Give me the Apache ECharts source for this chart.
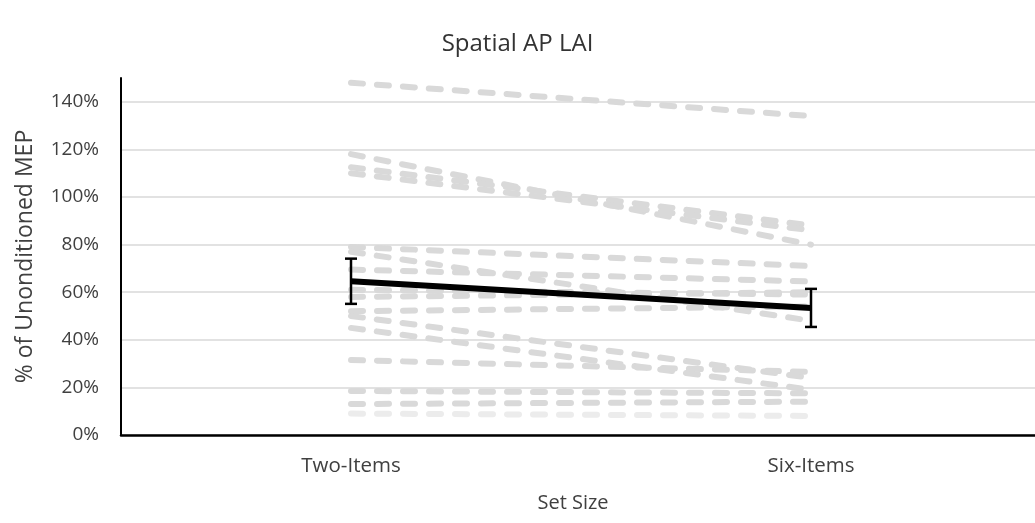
<!DOCTYPE html>
<html>
<head>
<meta charset="utf-8">
<script src="https://cdn.jsdelivr.net/npm/echarts@6/dist/echarts.min.js"></script>
<style>
html,body{margin:0;padding:0;background:#fff;}
#chart{width:1035px;height:523px;}
</style>
</head>
<body>
<div id="chart"></div>
<script>
const categories = ['Two-Items', 'Six-Items'];
// individual participants (% of unconditioned MEP)
const participantsTwo = [148, 118, 112.5, 110, 79, 77, 69.5, 61, 58, 52, 50, 45, 31.5, 18.5, 13, 9];
const participantsSix = [134, 80, 88, 86, 71, 48, 64.5, 59, 60, 54, 24, 19, 26.5, 17.5, 14, 8];
const meanValues = [64.6, 53.4];
const errorValues = [9.5, 8.0];
const yMin = 0, yMax = 150, yStep = 20;

const FONT = 'Open Sans';
const TXT = '#404040';

const series = [];
for (let i = 0; i < participantsTwo.length; i++) {
  series.push({
    type: 'line',
    data: [participantsTwo[i], participantsSix[i]],
    symbol: 'none',
    silent: true,
    z: 2,
    lineStyle: {
      color: i === participantsTwo.length - 1 ? '#ececec' : '#d9d9d9',
      width: 6,
      type: [12, 14],
      cap: 'round'
    }
  });
}
series.push({
  type: 'line',
  data: meanValues,
  symbol: 'none',
  z: 5,
  lineStyle: { color: '#000', width: 6 }
});
series.push({
  type: 'custom',
  z: 6,
  data: meanValues.map((m, i) => [i, m - errorValues[i], m + errorValues[i]]),
  renderItem: function (params, api) {
    const lo = api.coord([api.value(0), api.value(1)]);
    const hi = api.coord([api.value(0), api.value(2)]);
    const hw = 6;
    const st = { stroke: '#000', lineWidth: 2.5, fill: null };
    return {
      type: 'group',
      children: [
        { type: 'line', shape: { x1: lo[0], y1: lo[1], x2: hi[0], y2: hi[1] }, style: st },
        { type: 'line', shape: { x1: lo[0] - hw, y1: lo[1], x2: lo[0] + hw, y2: lo[1] }, style: st },
        { type: 'line', shape: { x1: hi[0] - hw, y1: hi[1], x2: hi[0] + hw, y2: hi[1] }, style: st }
      ]
    };
  }
});

const chart = echarts.init(document.getElementById('chart'), null, { renderer: 'canvas' });
chart.setOption({
  animation: false,
  backgroundColor: '#fff',
  title: {
    text: 'Spatial AP LAI',
    left: 'center',
    top: 27,
    textStyle: { fontFamily: FONT, fontSize: 24, fontWeight: 'normal', color: '#333' }
  },
  grid: { left: 121, width: 920, top: 78, bottom: 88, outerBoundsMode: 'none', containLabel: false },
  xAxis: {
    type: 'category',
    data: categories,
    boundaryGap: true,
    axisLine: { lineStyle: { color: '#000', width: 2.5 } },
    axisTick: { show: false },
    axisLabel: { fontFamily: FONT, fontSize: 20.5, color: TXT, margin: 21 },
    name: 'Set Size',
    nameLocation: 'middle',
    nameGap: 58,
    nameTextStyle: { fontFamily: FONT, fontSize: 20, color: TXT, padding: [0, 16, 0, 0] }
  },
  yAxis: {
    type: 'value',
    min: yMin,
    max: yMax,
    interval: yStep,
    axisLine: { show: true, lineStyle: { color: '#000', width: 2 } },
    axisTick: { show: false },
    splitLine: { show: true, showMaxLine: false, lineStyle: { color: '#d9d9d9', width: 1.5 } },
    axisLabel: {
      fontFamily: FONT, fontSize: 19, color: TXT, margin: 22,
      showMaxLabel: false,
      formatter: v => (v % yStep === 0 ? v + '%' : '')
    },
    name: '% of Unonditioned MEP',
    nameLocation: 'middle',
    nameGap: 84,
    nameTextStyle: { fontFamily: FONT, fontSize: 23, color: TXT }
  },
  series: series
});
</script>
</body>
</html>
